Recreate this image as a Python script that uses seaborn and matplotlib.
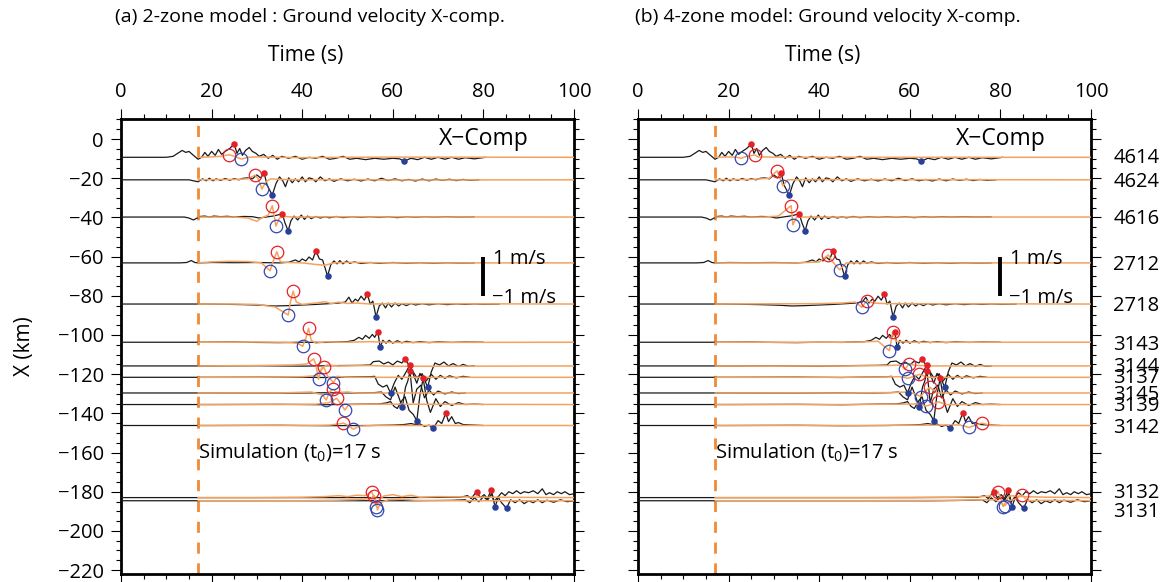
import numpy as np
import pandas as pd
import matplotlib
matplotlib.use("Agg")
import matplotlib.pyplot as plt
import seaborn as sns
from matplotlib.ticker import MultipleLocator
import matplotlib.transforms as mtransforms

# ---------------- data ----------------
STATIONS = ["4614", "4624", "4616", "2712", "2718", "3143", "3144",
            "3137", "3145", "3139", "3142", "3132", "3131"]
BASE_KM = [-9.3, -20.8, -39.8, -63.2, -84.2, -103.7, -115.8,
           -121.6, -129.6, -135.5, -146.2, -183.0, -184.6]
LABEL_Y = [-9.9, -21.8, -40.8, -64.3, -85.0, -105.0, -116.2,
           -122.0, -130.6, -136.2, -147.3, -180.4, -190.6]
KM_PER_MS = 10.0   # 1 m/s of ground velocity = 10 km on the X axis
T0 = 17.0

# observed traces (time s, velocity m/s)
obs_4614 = [(0,0),(10,0),(11.5,0.05),(12.5,0.2),(13.5,0.35),(14.3,0.25),(15,0.3),(16,0.1),(17,-0.1),(17.8,0),
            (18.5,0.25),(19.2,0.05),(20,0.3),(20.8,0.1),(21.5,0.4),(22.2,0.15),(23,0.3),(24,0.45),(25.6,0.2),
            (26.2,0.45),(26.8,0.1),(27.5,0.35),(28.3,0.5),(29,0.3),(29.8,0.2),(30.5,0.05),(31.5,0.15),(32.5,-0.05),
            (33.5,0.1),(34.5,-0.1),(35.5,0.05),(37,-0.05),(38.5,0.05),(40,-0.1),(41.5,0),(43,-0.05),(44.5,0.05),
            (46,-0.1),(47.5,-0.05),(49,0.05),(50.5,-0.1),(52,-0.05),(54,-0.12),(56,-0.05),(58,-0.1),(60,-0.05),
            (61.5,-0.08),(64,-0.05),(65.5,-0.12),(67,0),(68.5,-0.1),(70,0),(71.5,-0.1),(73,0),(74.5,-0.1),
            (76,-0.02),(78,-0.08),(80.5,0)]
obs_4624 = [(0,0),(15,0),(16,-0.05),(17,-0.1),(18,0.05),(18.8,-0.05),(19.5,0.08),(20.3,-0.05),(21,0.05),(22,-0.03),
            (23,0.07),(24,-0.02),(25,0.06),(26,0),(27,0.08),(28,0.1),(29,0.05),(30,0.25),(30.8,0.1),(32.3,-0.3),
            (34.2,-0.2),(35,0.15),(35.7,-0.05),(36.3,-0.35),(37,0.1),(37.8,-0.15),(38.5,0.05),(39.2,-0.1),(40,0.15),
            (40.7,-0.1),(41.5,0.1),(42.3,0.05),(43,-0.1),(44,0.15),(45,-0.05),(46,0.05),(47,-0.08),(48.5,0.05),
            (50,-0.05),(51.5,0.03),(53,-0.06),(54.5,0.04),(56,-0.05),(57.5,0.08),(59,-0.04),(60.5,0.05),(62,-0.05),
            (63.5,0.02),(65,-0.06),(66.5,0.04),(68,-0.05),(69.5,0.04),(71,-0.03),(72.5,0.03),(74,-0.04),(75.5,0.02),
            (77,-0.03),(79,0)]
obs_4616 = [(0,0),(14,0),(15,-0.05),(16,-0.15),(16.8,-0.05),(17.5,0.03),(18.5,0.05),(19.5,0),(20.5,0.05),(22,0.02),
            (23.5,0.04),(25,0),(27,0.03),(29,0.02),(30.5,-0.05),(32,0),(33.5,0.05),(34.5,0.1),(36.2,-0.3),(37.5,-0.2),
            (38.2,0.05),(39,-0.15),(39.8,0.1),(40.5,-0.12),(41.2,0.05),(42,-0.08),(43,0.03),(44,-0.05),(45,0.02),
            (46,-0.04),(47.5,0.03),(49,-0.03),(51,0.02),(53,-0.02),(55,0.02),(57,-0.02),(59,0.02),(61,-0.03),
            (63,0.02),(65,-0.01),(67,0.02),(69,0),(72,0.02),(75,0),(78,0.01)]
obs_2712 = [(0,0),(13,0),(14.5,0.02),(15.5,0.12),(16.3,0.02),(17,0),(20,0.02),(25,0.01),(30,0.02),(35,0),(37,0.03),
            (38.5,0.15),(39.3,0.05),(40,0.2),(40.8,0.1),(41.5,0.3),(42.3,0.15),(43.8,0.2),(44.5,0.15),(46.3,-0.1),
            (47,0.1),(47.7,-0.05),(48.3,0.12),(49,-0.05),(49.8,0.1),(50.5,-0.02),(51.5,0.05),(53,-0.03),(55,0.02),
            (57,-0.02),(60,0.02),(63,-0.02),(66,0.01),(69,-0.02),(72,0.01),(75,-0.01),(78,0)]
obs_2718 = [(0,0),(15,0),(17,0),(22,-0.01),(27,-0.03),(31,-0.06),(34,-0.1),(37,-0.08),(40,-0.05),(43,-0.02),(46,0.02),
            (48,0.05),(49.5,0.1),(50.3,0.35),(51,0.05),(51.7,0.25),(52.3,0.15),(53,0.4),(53.7,0.2),(55,0.0),
            (55.6,0.15),(57,-0.1),(57.7,0.05),(58.4,-0.2),(59,0.05),(59.7,-0.15),(60.5,0.05),(61.3,-0.1),(62,0.02),
            (63,-0.08),(64,0.03),(65,-0.05),(66.5,0.02),(68,-0.04),(70,0.02),(72,-0.03),(74,0.01),(76,-0.02),
            (78,0.01),(80,-0.01),(83.5,0)]
obs_3143 = [(0,0),(17,0),(25,0.01),(30,-0.01),(35,-0.02),(40,0),(45,-0.01),(48,0.02),(50,0.03),(51.5,0.1),(52.5,0.25),
            (53.3,0.15),(54,0.35),(54.8,0.2),(55.5,0.4),(56,0.25),(57.8,0.1),(58.5,-0.05),(59.2,0.1),(60,-0.05),
            (61,0.08),(62,-0.03),(63,0.05),(64.5,-0.02),(66,0.03),(68,-0.02),(70,0.02),(73,-0.01),(76,0.01),(80,0)]
obs_3144 = [(0,0),(20,0),(30,0.01),(40,-0.01),(48,0.02),(53,0.03),(55,0.05),(55.7,0.22),(57,0.25),(58,0.1),(59,0.2),
            (60,0.05),(61,0.25),(62,0.15),(63.4,0.1),(64.2,-0.2),(65.3,-0.6),(66.5,-0.4),(68.5,-0.3),(69.3,0.15),
            (70.3,0.05),(71.3,0.2),(72.3,0.0),(73.3,0.12),(74.5,-0.03),(75.5,0.08),(76.7,-0.02),(78,0)]
obs_3137 = [(0,0),(20,0),(35,0.01),(45,-0.01),(52,0.02),(55,0.03),(56,0.05),(56.8,-0.35),(57.8,-0.5),(58.7,-0.4),
            (60.3,-0.3),(61.2,0.1),(62,-0.1),(63,0.3),(64.6,0.1),(65.3,-0.3),(66,0.2),(67.3,-0.2),(68.5,0.15),
            (69.5,-0.1),(70.5,0.1),(71.5,-0.05),(72.5,0.08),(74,-0.03),(75.5,0.05),(77,0)]
obs_3145 = [(0,0),(20,0),(35,-0.01),(45,0.01),(52,0.0),(56,0.02),(57.5,0.05),(58.5,-0.2),(59.5,-0.35),(60.5,0.3),
            (61.3,-0.2),(62.8,0.3),(63.3,0.6),(64.5,-0.5),(65.3,0.2),(66.2,0.4),(67,-0.25),(68,0.15),(69,-0.1),
            (70,0.1),(71.5,-0.05),(73,0.05),(74.5,-0.03),(76,0)]
obs_3139 = [(0,0),(20,0),(35,0.01),(45,-0.01),(53,0.02),(57,0.03),(58.5,0.08),(59.5,0.15),(60.3,-0.1),(61,-0.2),
            (62,0.2),(62.7,0.4),(63.6,-0.3),(64.5,-0.5),(66,0.5),(67.5,0.2),(68.3,-0.4),(69.5,0.3),(70.5,-0.1),
            (71.5,0.15),(73,-0.05),(74.5,0.1),(76,0),(78,0.02),(80,0)]
obs_3142 = [(0,0),(20,0),(35,0.01),(45,-0.01),(55,0.0),(60,0.02),(62.5,0.05),(64,0.1),(65,0.05),(66,0.08),(67,-0.05),
            (68,0.02),(70,0.25),(70.8,0.1),(72.3,0.2),(73,0.45),(73.8,0.1),(74.5,0.15),(75.5,0.05),(77,0.03),(80,0)]
obs_3132 = [(0,0),(60,0),(70,0.01),(75,0.02),(76.5,0.1),(77.3,-0.05),(79.3,0),(80.2,0.15),(81,-0.1),(81.8,0.2),
            (83.3,0.05),(84,0.25),(84.8,0.1),(85.6,0.3),(86.5,0.2),(87.3,0.35),(88.2,0.2),(89,0.3),(90,0.25),
            (91,0.35),(92,0.2),(93,0.45),(93.8,0.15),(94.6,0.25),(95.5,0.15),(96.3,0.3),(97.2,0.2),(98,0.3),
            (99,0.15),(100,0.2)]
obs_3131 = [(0,0),(65,0),(73,0.02),(76,0.05),(77,-0.1),(78,0.15),(79,-0.05),(80,0.2),(80.8,0.05),(82.4,-0.05),
            (83.2,0.2),(84,-0.1),(86,0.05),(87,-0.1),(88,0.05),(89,-0.15),(90,0),(91,-0.1),(92,0.05),(93,-0.1),
            (94,0.03),(95.5,-0.08),(97,0.05),(98.5,-0.05),(100,0)]
OBS = [obs_4614, obs_4624, obs_4616, obs_2712, obs_2718, obs_3143, obs_3144,
       obs_3137, obs_3145, obs_3139, obs_3142, obs_3132, obs_3131]

# observed picks: maxima (red dots) and minima (blue dots)
OBS_MAX_T = [25.0, 31.6, 35.6, 43.0, 54.4, 56.7, 62.7, 63.8, 63.8, 66.7, 71.7, 78.5, 81.7]
OBS_MAX_V = [0.68, 0.33, 0.17, 0.62, 0.50, 0.54, 0.36, 0.65, 1.10, 1.33, 0.63, 0.31, 0.54]
OBS_MIN_T = [62.5, 33.4, 36.9, 45.6, 56.3, 57.2, 67.7, 59.5, 62.1, 65.3, 68.9, 82.6, 85.1]
OBS_MIN_V = [-0.20, -0.78, -0.70, -0.67, -0.65, -0.26, -1.10, -0.80, -0.73, -0.82, -0.15, -0.46, -0.38]

# simulated traces, 2-zone model
sim2_4614 = [(17,0),(20,0.02),(22,0.05),(25,0.05),(28,0),(30,0.02),(35,0),(40,-0.02),(50,0),(60,0.01),(100,0)]
sim2_4624 = [(17,0),(25,0.02),(28,0.05),(30.3,0.05),(32,-0.1),(33,0.05),(35,0.02),(40,0),(50,0.01),(60,-0.01),(100,0)]
sim2_4616 = [(17,0),(25,0),(28,-0.05),(30,-0.22),(31,-0.05),(32.5,0.1),(33.8,0.1),(35,-0.05),(36,0.03),(38,0),(45,0.01),(100,0)]
sim2_2712 = [(17,0),(20,0.05),(24,0.08),(28,0.07),(31,0.0),(33.6,0.1),(35.2,0.05),(37,0.02),(40,0),(43,-0.08),(45,-0.12),
             (47,0),(50,0.03),(60,0),(100,0)]
sim2_2718 = [(17,0),(25,0),(30,-0.02),(34,-0.15),(37.4,0.1),(38.7,0.1),(40,-0.02),(43,0.05),(45,0.12),(46.5,0.02),
             (48,0.1),(50,0.03),(52,0.05),(55,0),(60,0.02),(100,0)]
sim2_3143 = [(17,0),(25,0),(30,0.01),(36,0),(39,-0.05),(40.8,0.2),(42,0.1),(43,-0.05),(45,0.02),(50,0),(55,0.03),(60,-0.01),(100,0)]
sim2_3144 = [(17,0),(30,0.02),(38,0.05),(41,0.1),(43,0.1),(44.3,-0.1),(45.5,0.05),(48,0),(55,0.02),(60,-0.02),(100,0)]
sim2_3137 = [(17,0),(30,0),(40,0.03),(43,0.08),(45.5,0.1),(47.7,0.05),(50,0),(100,0)]
sim2_3145 = [(17,0),(35,0),(42,0.05),(44.5,-0.1),(46,0.05),(47.6,0.02),(50,0.05),(52,0),(100,0)]
sim2_3139 = [(17,0),(35,0),(43,0.02),(46,0.1),(48.5,0.05),(50.3,0),(55,0.02),(100,0)]
sim2_3142 = [(17,0),(40,0),(46,0.02),(48,0.08),(50.2,0),(52.5,-0.03),(56,0),(100,0)]
sim2_3132 = [(17,0),(30,0),(40,0.02),(45,0.05),(48,0.1),(50,0.05),(52,0.12),(54,0.1),(55.8,0.05),(57,-0.1),(58,0.08),
             (60,0.15),(62,0.05),(64,0.12),(66,0.02),(70,0.05),(80,0.02),(100,0)]
sim2_3131 = [(17,0),(40,0),(48,0.03),(52,0.06),(55,0.1),(56.3,0.0),(57.3,-0.1),(59,0.05),(62,0.08),(65,0.02),(70,0),(100,0)]
SIM2 = [sim2_4614, sim2_4624, sim2_4616, sim2_2712, sim2_2718, sim2_3143, sim2_3144,
        sim2_3137, sim2_3145, sim2_3139, sim2_3142, sim2_3132, sim2_3131]
SIM2_MAX_T = [23.9, 29.6, 33.4, 34.4, 38.0, 41.4, 42.5, 44.8, 46.9, 47.6, 49.1, 55.3, 55.9]
SIM2_MAX_V = [0.13, 0.24, 0.58, 0.57, 0.66, 0.71, 0.36, 0.51, 0.19, 0.32, 0.12, 0.31, 0.26]
SIM2_MIN_T = [26.6, 31.1, 34.2, 32.9, 36.9, 40.1, 43.6, 46.9, 45.3, 49.4, 51.3, 56.4, 56.6]
SIM2_MIN_V = [-0.09, -0.47, -0.46, -0.40, -0.56, -0.21, -0.68, -0.27, -0.36, -0.28, -0.19, -0.46, -0.47]

# simulated traces, 4-zone model
sim4_4614 = [(17,0),(20,0.02),(21.8,0.0),(24,0.05),(26.5,0.02),(30,0.01),(40,0),(100,0)]
sim4_4624 = [(17,0),(25,0.02),(29,0.08),(31.3,0.1),(33,0),(40,0.01),(100,0)]
sim4_4616 = [(17,0),(28,0),(31,0.05),(34.0,0.1),(35,0.0),(40,0),(100,0)]
sim4_2712 = [(17,0),(35,0),(40,0.05),(43,0.05),(46,0),(100,0)]
sim4_2718 = [(17,0),(40,0.02),(45,0.05),(48,0.1),(52,0.05),(55,0.02),(100,0)]
sim4_3143 = [(17,0),(45,0),(50,0.02),(53,0.05),(57,0.05),(60,0),(100,0)]
sim4_3144 = [(17,0),(45,0),(55,0.02),(58,0.05),(61,0.03),(65,0),(100,0)]
sim4_3137 = [(17,0),(45,0),(55,0.02),(58,0.03),(61,0.05),(64,0),(100,0)]
sim4_3145 = [(17,0),(45,0),(55,0.02),(60,0.05),(63.2,0.05),(66,0),(100,0)]
sim4_3139 = [(17,0),(45,0),(58,0.02),(62,0.03),(65,0.02),(68,0),(100,0)]
sim4_3142 = [(17,0),(50,0),(65,0.02),(71,0.03),(74.5,0.02),(78,0),(100,0)]
sim4_3132 = [(17,0),(50,0),(70,0.02),(76,0.05),(78,0.1),(80,0.0),(82,0.1),(85,0.05),(90,0.02),(100,0)]
sim4_3131 = [(17,0),(50,0),(70,0.02),(76,0.05),(79,0.05),(82,0.0),(83.5,0.1),(86,0.0),(90,0.02),(100,0)]
SIM4 = [sim4_4614, sim4_4624, sim4_4616, sim4_2712, sim4_2718, sim4_3143, sim4_3144,
        sim4_3137, sim4_3145, sim4_3139, sim4_3142, sim4_3132, sim4_3131]
SIM4_MAX_T = [25.8, 30.7, 33.8, 42.0, 50.5, 56.2, 59.9, 62.1, 64.4, 66.3, 75.9, 79.5, 84.7]
SIM4_MAX_V = [0.12, 0.46, 0.58, 0.40, 0.17, 0.51, 0.12, 0.15, 0.29, 0.14, 0.12, 0.31, 0.31]
SIM4_MIN_T = [22.8, 32.0, 34.2, 44.5, 49.4, 55.5, 58.9, 59.5, 62.4, 63.6, 73.1, 80.6, 81.0]
SIM4_MIN_V = [-0.05, -0.31, -0.40, -0.35, -0.17, -0.43, -0.17, -0.05, -0.18, -0.08, -0.10, -0.46, -0.25]

TITLES = ["(a) 2-zone model : Ground velocity X-comp.", "(b) 4-zone model: Ground velocity X-comp."]

# ---------------- style ----------------
sns.set_theme(style="ticks")
plt.rcParams['font.family'] = ['Open Sans', 'DejaVu Sans']
plt.rcParams['mathtext.fontset'] = 'custom'
plt.rcParams['mathtext.rm'] = 'Open Sans'
plt.rcParams['mathtext.it'] = 'Open Sans'
plt.rcParams['axes.unicode_minus'] = True
for key in ['text.color', 'axes.labelcolor', 'xtick.color', 'ytick.color']:
    plt.rcParams[key] = 'black'

BLACK = "#1a1a1a"
ORANGE = "#f3a35f"
DASH = "#f08a36"
RED = "#e32228"
BLUE = "#27409a"
FS = 14.5


def trace_frame(points, base, extra):
    pts = sorted(list(points) + list(extra), key=lambda p: p[0])
    return pd.DataFrame({"t": [p[0] for p in pts],
                         "x": [base + KM_PER_MS * p[1] for p in pts]})


fig = plt.figure(figsize=(11.67, 5.82), dpi=100)
AX_H = 455.3 / 582
ax_l = fig.add_axes([121 / 1167, 8 / 582, 453 / 1167, AX_H])
ax_r = fig.add_axes([638 / 1167, 8 / 582, 453 / 1167, AX_H])

for k, ax in enumerate([ax_l, ax_r]):
    SIM = SIM2 if k == 0 else SIM4
    SMT, SMV = (SIM2_MAX_T, SIM2_MAX_V) if k == 0 else (SIM4_MAX_T, SIM4_MAX_V)
    SNT, SNV = (SIM2_MIN_T, SIM2_MIN_V) if k == 0 else (SIM4_MIN_T, SIM4_MIN_V)
    for i, st in enumerate(STATIONS):
        b = BASE_KM[i]
        dfo = trace_frame(OBS[i], b, [(OBS_MAX_T[i], OBS_MAX_V[i]), (OBS_MIN_T[i], OBS_MIN_V[i])])
        sns.lineplot(data=dfo, x="t", y="x", sort=False, estimator=None, ax=ax,
                     color=BLACK, lw=0.9, zorder=3)
        dfs = trace_frame(SIM[i], b, [(SMT[i], SMV[i]), (SNT[i], SNV[i])])
        sns.lineplot(data=dfs, x="t", y="x", sort=False, estimator=None, ax=ax,
                     color=ORANGE, lw=1.1, zorder=4)
    # picks
    ymax_o = [BASE_KM[i] + KM_PER_MS * OBS_MAX_V[i] for i in range(len(STATIONS))]
    ymin_o = [BASE_KM[i] + KM_PER_MS * OBS_MIN_V[i] for i in range(len(STATIONS))]
    ymax_s = [BASE_KM[i] + KM_PER_MS * SMV[i] for i in range(len(STATIONS))]
    ymin_s = [BASE_KM[i] + KM_PER_MS * SNV[i] for i in range(len(STATIONS))]
    ax.plot(SMT, ymax_s, ls="none", marker="o", ms=9, mfc="none", mec=RED, mew=0.9, zorder=6)
    ax.plot(SNT, ymin_s, ls="none", marker="o", ms=9, mfc="none", mec="#3448ad", mew=0.9, zorder=6)
    sns.scatterplot(x=OBS_MAX_T, y=ymax_o, ax=ax, color=RED, s=22, linewidth=0, zorder=7)
    sns.scatterplot(x=OBS_MIN_T, y=ymin_o, ax=ax, color=BLUE, s=22, linewidth=0, zorder=7)

    ax.axvline(T0, color=DASH, lw=2.0, ls=(0, (4, 3.5)), zorder=2)

    ax.set_xlim(0, 100)
    ax.set_ylim(-222, 10.4)
    ax.xaxis.set_major_locator(MultipleLocator(20))
    ax.xaxis.set_minor_locator(MultipleLocator(5))
    ax.yaxis.set_major_locator(MultipleLocator(20))
    ax.yaxis.set_minor_locator(MultipleLocator(5))
    ax.tick_params(which="both", direction="out", top=True, bottom=True, left=True, right=True,
                   labeltop=True, labelbottom=False, labelleft=(k == 0), labelright=False,
                   width=0.8, color="black", labelsize=FS, labelcolor="black")
    ax.tick_params(which="major", length=7.5)
    ax.tick_params(which="minor", length=3.5)
    ax.tick_params(axis="x", pad=4.5)
    ax.tick_params(axis="y", pad=5)
    for side in ["top", "left", "right", "bottom"]:
        ax.spines[side].set_visible(True)
        ax.spines[side].set_color("black")
        ax.spines[side].set_linewidth(2.0)
    ax.set_xlabel("")
    ax.set_ylabel("")

    ax.text(80, 0, "X\u2212Comp", fontsize=16.5, ha="center", va="center", zorder=8)
    # velocity scale bar
    ax.plot([79.9, 79.9], [-60, -80], color="black", lw=2.8, solid_capstyle="butt", zorder=8)
    ax.text(82.2, -61.0, "1 m/s", fontsize=FS, ha="left", va="center", zorder=8)
    ax.text(81.8, -81.3, "\u22121 m/s", fontsize=FS, ha="left", va="center", zorder=8)
    ax.text(17.0, -159.7, "Simulation (t$_{\\mathregular{0}}$)=17 s", fontsize=FS,
            ha="left", va="center", zorder=8)

    ax.text(0.418, 1 + 101.7 / 455.3, TITLES[k], transform=ax.transAxes, fontsize=14,
            ha="center", va="center")
    ax.text(0.408, 1 + 63.7 / 455.3, "Time (s)", transform=ax.transAxes, fontsize=15,
            ha="center", va="center")

ax_l.set_ylabel("X (km)", fontsize=15, labelpad=16)

trans = mtransforms.blended_transform_factory(ax_r.transAxes, ax_r.transData)
for st, yl in zip(STATIONS, LABEL_Y):
    ax_r.text(1.049, yl, st, transform=trans, fontsize=FS, ha="left", va="center", clip_on=False)

fig.savefig("out.png", dpi=100)
